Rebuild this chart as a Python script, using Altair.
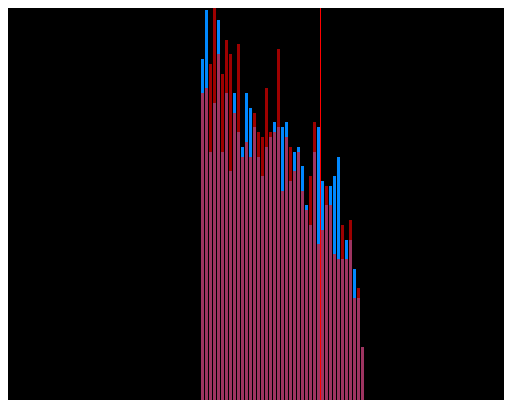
import altair as alt
import pandas as pd

# bar index (one bar per bin)
bins = list(range(41))

# series values (heights)
blue_values = [341, 390, 248, 297, 380, 248, 307, 229, 307, 268, 253, 307, 292, 273,
               243, 224, 253, 263, 278, 273, 273, 278, 219, 248, 253, 234, 195, 175,
               248, 273, 219, 195, 214, 224, 243, 141, 160, 160, 131, 102, 53]
red_values = [307, 312, 336, 405, 346, 326, 360, 346, 287, 356, 243, 258, 243, 287,
              268, 263, 312, 268, 268, 351, 209, 263, 253, 229, 248, 209, 190, 224,
              278, 156, 170, 214, 195, 146, 141, 175, 141, 180, 102, 112, 53]

# marker position (vertical line)
marker = [29.875]

df = pd.DataFrame({"bin": bins, "blue": blue_values, "red": red_values})
df["bin_end"] = df["bin"] + 0.75
mk = pd.DataFrame({"pos": marker})

xscale = alt.Scale(domain=[-48.25, 75.75], nice=False, zero=False)
yscale = alt.Scale(domain=[0, 392], nice=False)

base = alt.Chart(df)
blue = base.mark_bar(color="#0088ff", opacity=1, clip=True).encode(
    x=alt.X("bin:Q", scale=xscale, axis=None),
    x2="bin_end:Q",
    y=alt.Y("blue:Q", scale=yscale, axis=None),
    y2=alt.datum(0),
)
red = base.mark_bar(color="#ff0000", opacity=0.62, clip=True).encode(
    x=alt.X("bin:Q", scale=xscale, axis=None),
    x2="bin_end:Q",
    y=alt.Y("red:Q", scale=yscale, axis=None),
    y2=alt.datum(0),
)
line = alt.Chart(mk).mark_rule(color="#ff0000", strokeWidth=1).encode(
    x=alt.X("pos:Q", scale=xscale, axis=None),
)

chart = (
    alt.layer(blue, red, line)
    .properties(
        width=496,
        height=392,
        background="#000000",
        padding=0,
        autosize=alt.AutoSizeParams(type="none"),
    )
    .configure_view(stroke=None)
)

chart.save("out.html", embed_options={"renderer": "svg", "actions": False})
